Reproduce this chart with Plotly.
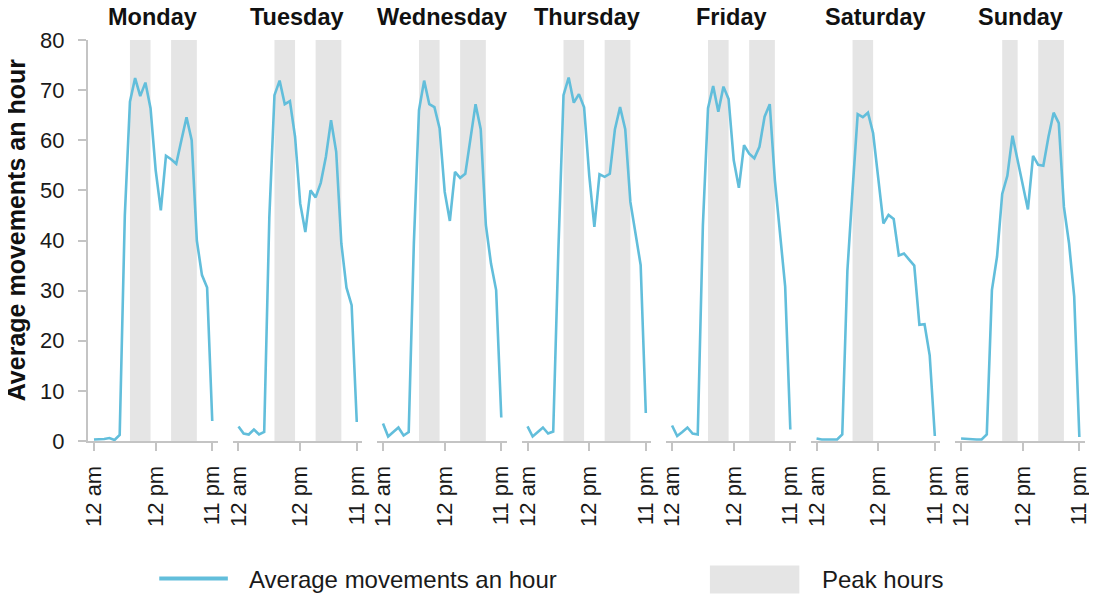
import plotly.graph_objects as go

days = ["Monday", "Tuesday", "Wednesday", "Thursday", "Friday", "Saturday", "Sunday"]
hours = list(range(24))

monday = [0.3, 0.3, 0.4, 0.6, 0.2, 1.2, 45, 67.7, 72.4, 68.8, 71.5, 66.4, 54, 46, 56.9, 56.2, 55.3, 60, 64.6, 60, 40, 33.1, 30.6, 4]
tuesday = [2.9, 1.5, 1.3, 2.3, 1.3, 1.8, 44.7, 69, 71.9, 67.2, 67.8, 60.7, 47.4, 41.7, 50, 48.6, 51.5, 56.7, 64, 57.7, 39.4, 30.6, 27.1, 3.8]
wednesday = [3.5, 0.9, 1.8, 2.7, 1.1, 1.8, 39.4, 66, 71.9, 67.2, 66.6, 62.4, 49.7, 43.9, 53.7, 52.5, 53.3, 60.4, 67.2, 62.2, 43.1, 35.4, 30.1, 4.7]
thursday = [2.9, 0.9, 1.8, 2.7, 1.5, 1.9, 38, 69, 72.5, 67.5, 69.2, 66.6, 53, 42.7, 53.2, 52.7, 53.3, 62.2, 66.6, 62.2, 47.7, 41.4, 35.1, 5.6]
friday = [3.1, 1.0, 1.8, 2.7, 1.5, 1.3, 43, 66.4, 70.8, 65.7, 70.7, 68.2, 56, 50.5, 59, 57.3, 56.4, 58.7, 64.7, 67.2, 52, 42, 30.8, 2.3]
saturday = [0.5, 0.3, 0.3, 0.3, 0.3, 1.3, 34, 50, 65.2, 64.6, 65.5, 61.4, 52, 43.4, 45.1, 44.3, 37, 37.4, 36.2, 35, 23.2, 23.3, 17.1, 1.0]
sunday = [0.5, 0.4, 0.3, 0.3, 0.3, 1.3, 30.1, 36.8, 49.3, 52.9, 60.9, 55.8, 50.7, 46.2, 56.9, 55.1, 54.9, 60.7, 65.5, 63.4, 46.7, 39.4, 28.8, 0.8]
series = [monday, tuesday, wednesday, thursday, friday, saturday, sunday]

weekday_peaks = [(7, 11), (15, 20)]
saturday_peaks = [(7, 11)]
sunday_peaks = [(8, 11), (15, 20)]
peaks = [weekday_peaks] * 5 + [saturday_peaks, sunday_peaks]

tick_vals = [0, 12, 23]
tick_text = ["12 am", "12 pm", "11 pm"]
y_ticks = list(range(0, 81, 10))

line_name = "Average movements an hour"
peak_name = "Peak hours"
y_title = "Average movements an hour"

FONT = "Liberation Sans, Arial, Helvetica, sans-serif"
LINE_COLOR = "#62bedb"
PEAK_COLOR = "#e5e5e5"
AXIS_COLOR = "#c4c4c4"

# the page body adds an 8px offset; compensate so the picture lands at page pixels
OFF = 8
W, H = 1097 - OFF, 595 - OFF
ML, MT = 88.3 - OFF, 40 - OFF
PLOT_RIGHT, PLOT_BOTTOM = 1091.4 - OFF, 440.7 - OFF
MR = W - PLOT_RIGHT
MB = H - PLOT_BOTTOM
PW = W - ML - MR
PH = H - MT - MB

pitch = 145.4
pwidth = 130.7


def px(pix):
    return (pix - OFF - ML) / PW


def py(pix):
    return (MT + PH - (pix - OFF)) / PH


fig = go.Figure()
layout = dict(
    width=W, height=H,
    margin=dict(l=ML, r=MR, t=MT, b=MB, pad=0),
    paper_bgcolor="white", plot_bgcolor="white",
    showlegend=False,
    font=dict(family=FONT, size=22, color="#1a1a1a"),
)
shapes = []
annotations = []

for k, (day, vals) in enumerate(zip(days, series)):
    n = k + 1
    xa = "x" if n == 1 else f"x{n}"
    ya = "y" if n == 1 else f"y{n}"
    left = min(1.0, (k * pitch) / PW)
    right = min(1.0, (k * pitch + pwidth) / PW)
    fig.add_trace(go.Scatter(
        x=hours, y=vals, mode="lines", name=line_name,
        line=dict(color=LINE_COLOR, width=2.6),
        xaxis=xa, yaxis=ya, hoverinfo="x+y",
    ))
    layout["xaxis" if n == 1 else f"xaxis{n}"] = dict(
        domain=[left, right], anchor=ya, range=[-1.16, 24.1],
        showline=True, linecolor=AXIS_COLOR, linewidth=2,
        showgrid=False, zeroline=False,
        ticks="outside", ticklen=8, tickwidth=2, tickcolor=AXIS_COLOR,
        tickvals=tick_vals, ticktext=tick_text, tickangle=-90,
        tickfont=dict(size=22, color="#1a1a1a"), ticklabelstandoff=6,
        fixedrange=True,
    )
    if n == 1:
        layout["yaxis"] = dict(
            domain=[0, 1], anchor="x", range=[0, 80],
            showline=True, linecolor=AXIS_COLOR, linewidth=2,
            showgrid=False, zeroline=False,
            ticks="outside", ticklen=8, tickwidth=2, tickcolor=AXIS_COLOR,
            tickvals=y_ticks, tickfont=dict(size=22, color="#1a1a1a"),
            ticklabelstandoff=9, fixedrange=True,
        )
    else:
        layout[f"yaxis{n}"] = dict(
            domain=[0, 1], anchor=xa, range=[0, 80],
            showline=False, showgrid=False, zeroline=False,
            showticklabels=False, ticks="", fixedrange=True,
        )
    for (a, b) in peaks[k]:
        shapes.append(dict(
            type="rect", xref=xa, yref=ya, x0=a, x1=b, y0=0, y1=80,
            fillcolor=PEAK_COLOR, line=dict(width=0), layer="below",
        ))
    annotations.append(dict(
        text=f"<b>{day}</b>", xref="paper", yref="paper",
        x=(left + right) / 2, y=py(17), xanchor="center", yanchor="middle",
        showarrow=False, font=dict(size=23.5, color="#111111"),
    ))

# y axis title
annotations.append(dict(
    text=f"<b>{y_title}</b>", xref="paper", yref="paper",
    x=px(16), y=py(230),
    xanchor="center", yanchor="middle", textangle=-90, showarrow=False,
    font=dict(size=25, color="#111111"),
))

# legend (drawn manually)
shapes.append(dict(type="line", xref="paper", yref="paper",
                   x0=px(160), x1=px(229), y0=py(578), y1=py(578),
                   line=dict(color=LINE_COLOR, width=4)))
annotations.append(dict(text=line_name, xref="paper", yref="paper",
                        x=px(248), y=py(579), xanchor="left", yanchor="middle",
                        showarrow=False, font=dict(size=24, color="#1a1a1a")))
shapes.append(dict(type="rect", xref="paper", yref="paper",
                   x0=px(714), x1=px(804), y0=py(593), y1=py(565),
                   fillcolor=PEAK_COLOR, line=dict(width=0)))
annotations.append(dict(text=peak_name, xref="paper", yref="paper",
                        x=px(825), y=py(579), xanchor="left", yanchor="middle",
                        showarrow=False, font=dict(size=24, color="#1a1a1a")))

layout["shapes"] = shapes
layout["annotations"] = annotations
fig.update_layout(**layout)
fig.write_html("out.html")
